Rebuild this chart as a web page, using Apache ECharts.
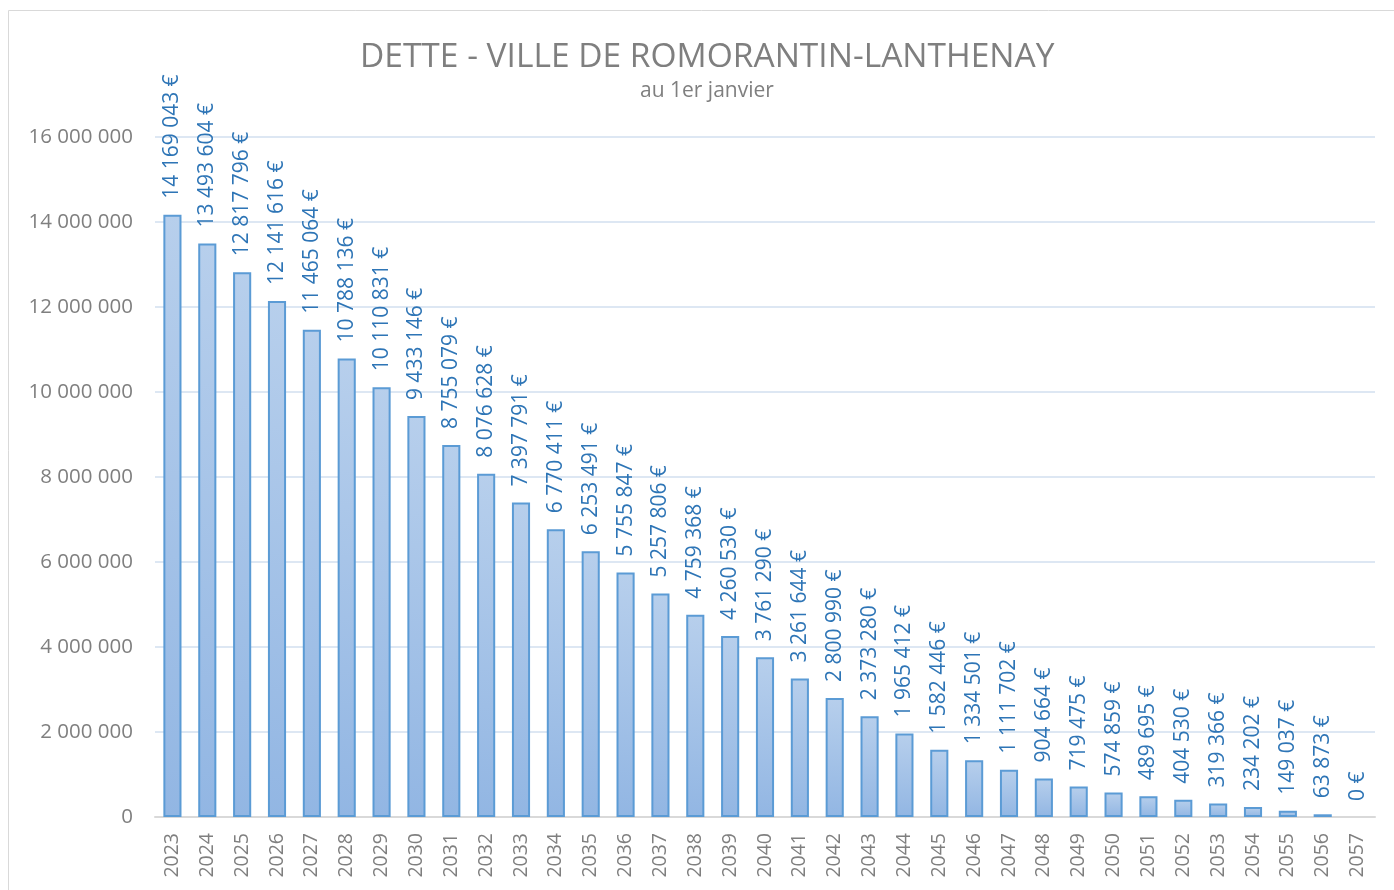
<!DOCTYPE html>
<html>
<head>
<meta charset="utf-8">
<script src="https://cdn.jsdelivr.net/npm/echarts@6/dist/echarts.min.js"></script>
<style>
  html, body { margin: 0; padding: 0; background: #fff; }
  #chart { width: 1394px; height: 890px; }
</style>
</head>
<body>
<div id="chart"></div>
<script>
// years (1er janvier)
var years = ['2023','2024','2025','2026','2027','2028','2029','2030','2031','2032',
  '2033','2034','2035','2036','2037','2038','2039','2040','2041','2042',
  '2043','2044','2045','2046','2047','2048','2049','2050','2051','2052',
  '2053','2054','2055','2056','2057'];

// encours de la dette
var dette = [14169043, 13493604, 12817796, 12141616, 11465064, 10788136, 10110831, 9433146, 8755079, 8076628,
  7397791, 6770411, 6253491, 5755847, 5257806, 4759368, 4260530, 3761290, 3261644, 2800990,
  2373280, 1965412, 1582446, 1334501, 1111702, 904664, 719475, 574859, 489695, 404530,
  319366, 234202, 149037, 63873, 0];

var yTicks = [0, 2000000, 4000000, 6000000, 8000000, 10000000, 12000000, 14000000, 16000000];

var font = 'Open Sans';

function espaces(n) {
  return String(Math.round(n)).replace(/\B(?=(\d{3})+(?!\d))/g, ' ');
}

// no outline for an empty bar
var barData = dette.map(function (v) {
  return v === 0 ? { value: v, itemStyle: { borderWidth: 0 } } : v;
});

var chart = echarts.init(document.getElementById('chart'));
chart.setOption({
  animation: false,
  textStyle: { fontFamily: font },
  graphic: [{
    type: 'rect',
    shape: { x: 8.5, y: 10.5, width: 1400, height: 900 },
    style: { fill: 'none', stroke: '#d9d9d9', lineWidth: 1 },
    silent: true
  }],
  // title sits centred over the plot area, a bit right of the page centre
  title: [{
    text: 'DETTE - VILLE DE ROMORANTIN-LANTHENAY',
    left: 355,
    top: 35,
    textStyle: { fontFamily: font, fontSize: 33.5, fontWeight: 'normal', color: '#7f7f7f' }
  }, {
    text: 'au 1er janvier',
    left: 635,
    top: 76,
    textStyle: { fontFamily: font, fontSize: 21, fontWeight: 'normal', color: '#7f7f7f' }
  }],
  grid: { left: 155, right: 19, top: 137, bottom: 73 },
  xAxis: {
    type: 'category',
    data: years,
    axisLine: { lineStyle: { color: '#d9d9d9', width: 2 } },
    axisTick: { show: false },
    axisLabel: { rotate: 90, color: '#7f7f7f', fontSize: 19.5, margin: 16, fontFamily: font }
  },
  yAxis: {
    type: 'value',
    min: yTicks[0],
    max: yTicks[yTicks.length - 1],
    interval: 2000000,
    axisLine: { show: false },
    axisTick: { show: false },
    splitLine: { lineStyle: { color: '#dde7f3', width: 2 } },
    axisLabel: {
      color: '#7f7f7f', fontSize: 20.5, margin: 22, fontFamily: font,
      formatter: function (v) { return espaces(v); }
    }
  },
  series: [{
    type: 'bar',
    data: barData,
    barWidth: '52%',
    itemStyle: {
      color: new echarts.graphic.LinearGradient(0, 0, 0, 1, [
        { offset: 0, color: '#b7cfec' },
        { offset: 1, color: '#92b6e3' }
      ]),
      borderColor: '#5b9bd5',
      borderWidth: 2
    },
    label: {
      show: true,
      position: 'top',
      rotate: 90,
      align: 'left',
      verticalAlign: 'middle',
      distance: 16,
      color: '#2e75b6',
      fontSize: 21,
      fontFamily: font,
      formatter: function (p) { return espaces(p.value) + ' €'; }
    }
  }]
});
</script>
</body>
</html>
